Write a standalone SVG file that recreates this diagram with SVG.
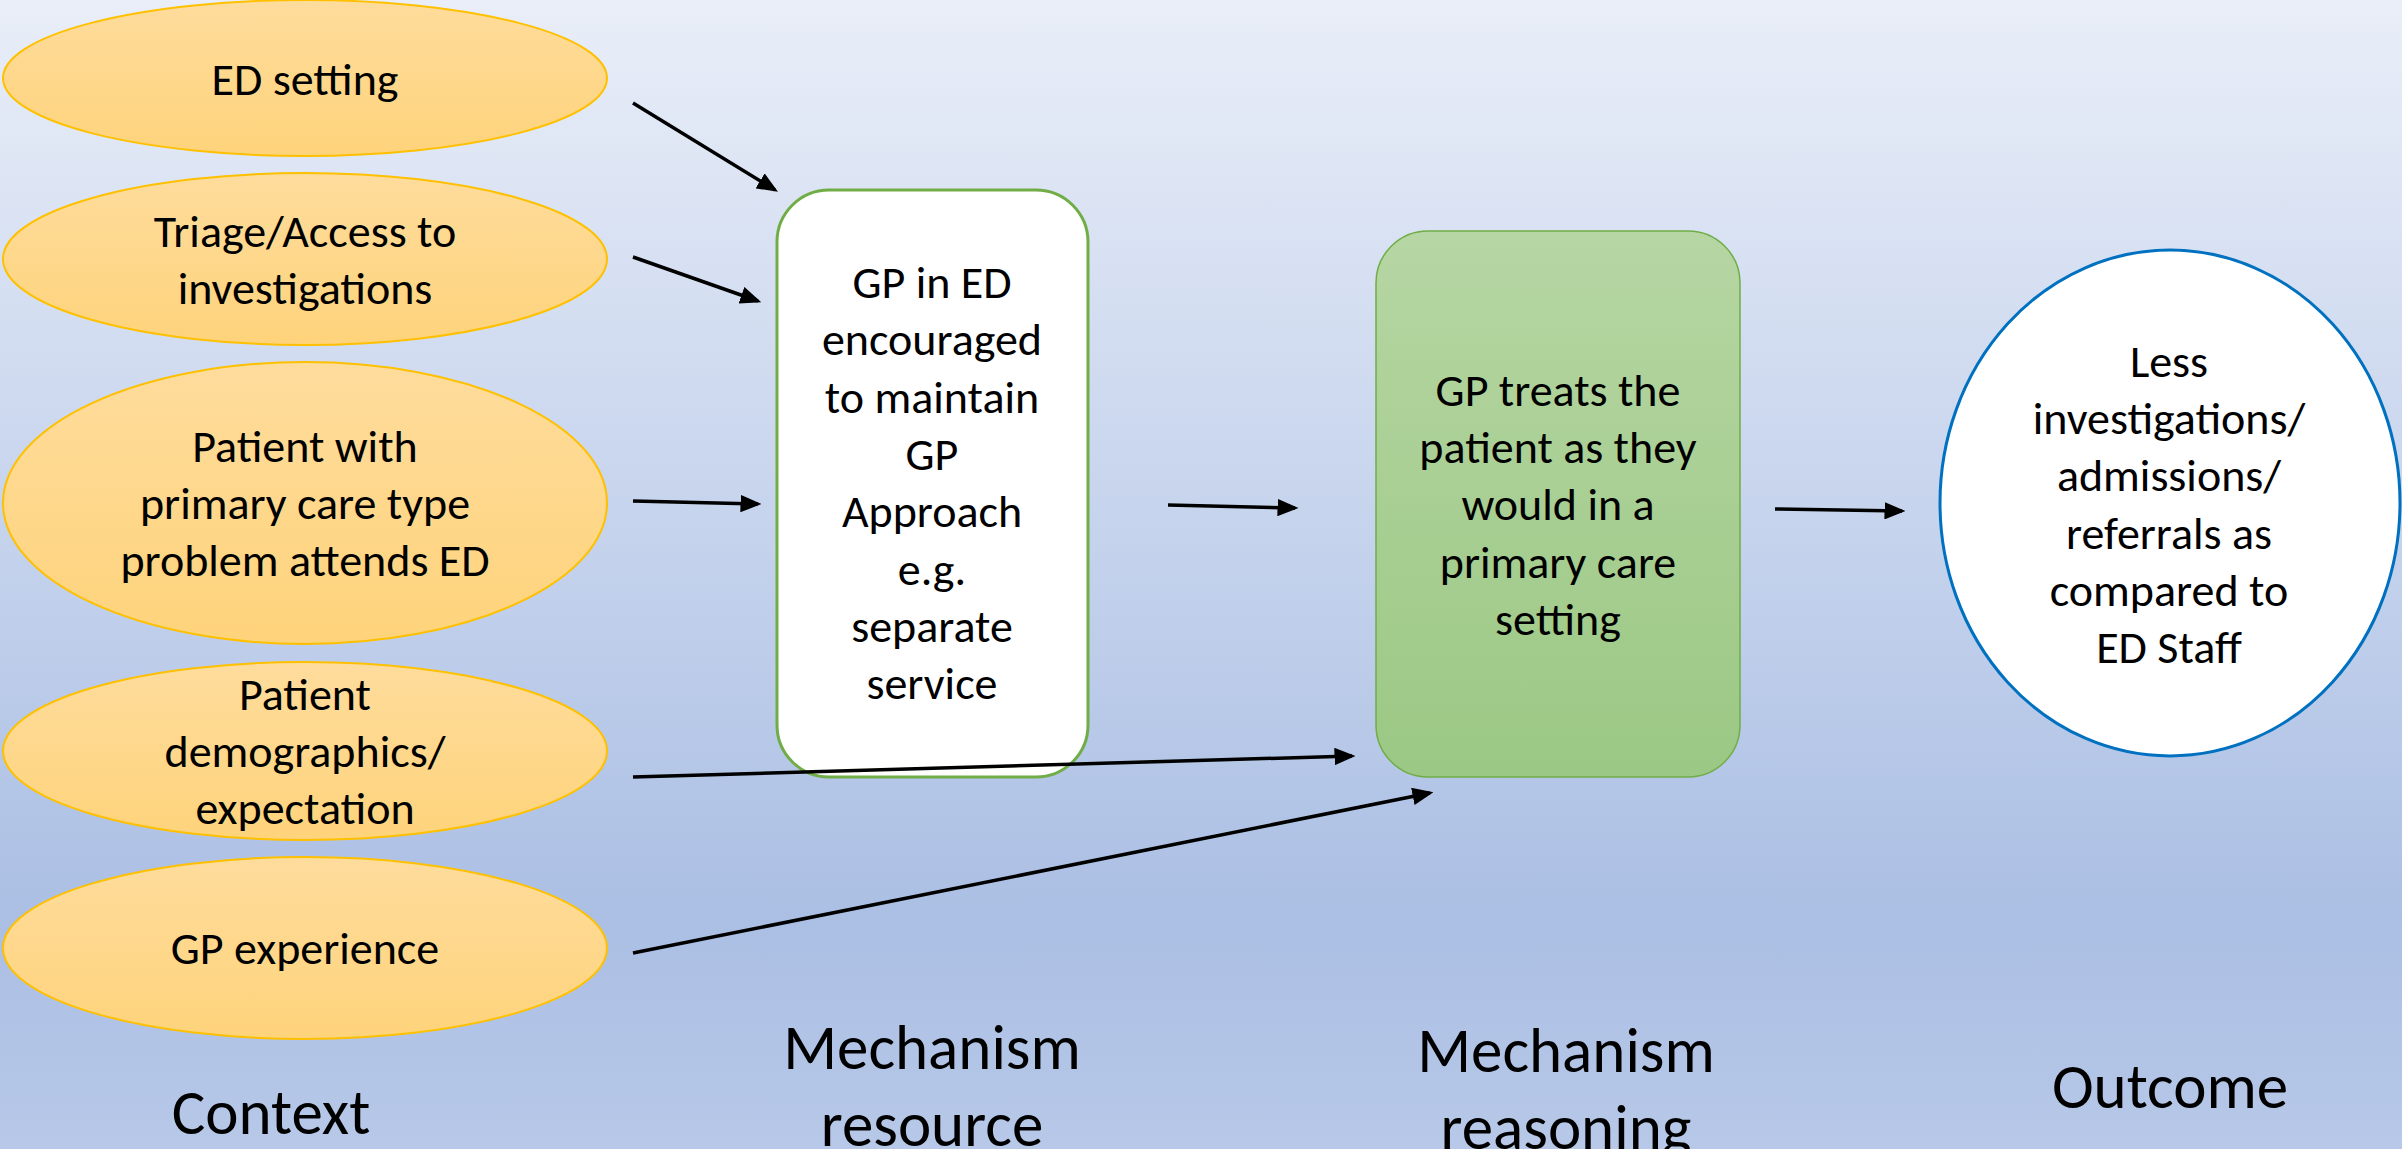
<svg xmlns="http://www.w3.org/2000/svg" width="2402" height="1149" viewBox="0 0 2402 1149">
<defs>
<linearGradient id="bg" x1="0" y1="0" x2="0" y2="1">
<stop offset="0" stop-color="#e9eef8"/>
<stop offset="0.8" stop-color="#abbfe4"/>
<stop offset="1" stop-color="#b7c8e8"/>
</linearGradient>
<linearGradient id="gold" x1="0" y1="0" x2="0" y2="1">
<stop offset="0" stop-color="#fedc9c"/>
<stop offset="1" stop-color="#fed37b"/>
</linearGradient>
<linearGradient id="green" x1="0" y1="0" x2="0" y2="1">
<stop offset="0" stop-color="#b6d6a3"/>
<stop offset="1" stop-color="#9bc884"/>
</linearGradient>
<marker id="arrow" viewBox="0 0 12 10" refX="10" refY="5" markerWidth="6" markerHeight="5" orient="auto" markerUnits="strokeWidth">
<path d="M0,0 L12,5 L0,10 z" fill="#000"/>
</marker>
</defs>
<style>
text{font-family:Carlito,Lato,"Liberation Sans",sans-serif;fill:#000;text-anchor:middle}
.t{font-size:46px}
.h{font-size:63px}
.ctx{fill:url(#gold);stroke:#ffc000;stroke-width:2}
.res{fill:#fff;stroke:#70ad47;stroke-width:3}
.rea{fill:url(#green);stroke:#70ad47;stroke-width:1.5}
.out{fill:#fff;stroke:#0070c0;stroke-width:3}
.c line{stroke:#000;stroke-width:3.5;marker-end:url(#arrow)}
</style>
<rect x="0" y="0" width="2402" height="1149" fill="url(#bg)"/>

<g id="ctx-ed-setting">
<ellipse class="ctx" cx="305" cy="78" rx="302" ry="78"/>
<text class="t" x="305" y="95">ED setting</text>
</g>
<g id="ctx-triage">
<ellipse class="ctx" cx="305" cy="259" rx="302" ry="86"/>
<text class="t" x="305" y="247">Triage/Access to</text>
<text class="t" x="305" y="304">investigations</text>
</g>
<g id="ctx-patient">
<ellipse class="ctx" cx="305" cy="503" rx="302" ry="141"/>
<text class="t" x="305" y="462">Patient with</text>
<text class="t" x="305" y="519">primary care type</text>
<text class="t" x="305" y="576">problem attends ED</text>
</g>
<g id="ctx-demographics">
<ellipse class="ctx" cx="305" cy="751" rx="302" ry="89"/>
<text class="t" x="305" y="710">Patient</text>
<text class="t" x="305" y="767">demographics/</text>
<text class="t" x="305" y="824">expectation</text>
</g>
<g id="ctx-gp-experience">
<ellipse class="ctx" cx="305" cy="948" rx="302" ry="91"/>
<text class="t" x="305" y="964">GP experience</text>
</g>

<g id="mech-resource">
<rect class="res" x="777" y="190" width="311" height="587" rx="52" ry="52"/>
<text class="t" x="932" y="298">GP in ED</text>
<text class="t" x="932" y="355">encouraged</text>
<text class="t" x="932" y="413">to maintain</text>
<text class="t" x="932" y="470">GP</text>
<text class="t" x="932" y="527">Approach</text>
<text class="t" x="932" y="585">e.g.</text>
<text class="t" x="932" y="642">separate</text>
<text class="t" x="932" y="699">service</text>
</g>

<g id="mech-reasoning">
<rect class="rea" x="1376" y="231" width="364" height="546" rx="52" ry="52"/>
<text class="t" x="1558" y="406">GP treats the</text>
<text class="t" x="1558" y="463">patient as they</text>
<text class="t" x="1558" y="520">would in a</text>
<text class="t" x="1558" y="578">primary care</text>
<text class="t" x="1558" y="635">setting</text>
</g>

<g id="outcome">
<ellipse class="out" cx="2170" cy="503" rx="230" ry="253"/>
<text class="t" x="2169" y="377">Less</text>
<text class="t" x="2169" y="434">investigations/</text>
<text class="t" x="2169" y="491">admissions/</text>
<text class="t" x="2169" y="549">referrals as</text>
<text class="t" x="2169" y="606">compared to</text>
<text class="t" x="2169" y="663">ED Staff</text>
</g>

<g id="connectors" class="c">
<line x1="633" y1="103" x2="775" y2="190"/>
<line x1="633" y1="257" x2="758" y2="301"/>
<line x1="633" y1="501" x2="758" y2="504"/>
<line x1="633" y1="777" x2="1352" y2="756"/>
<line x1="633" y1="953" x2="1430" y2="793"/>
<line x1="1168" y1="505" x2="1295" y2="508"/>
<line x1="1775" y1="509" x2="1902" y2="511"/>
</g>

<g id="labels">
<text class="h" x="271" y="1134">Context</text>
<text class="h" x="932" y="1069">Mechanism</text>
<text class="h" x="932" y="1146">resource</text>
<text class="h" x="1566" y="1072">Mechanism</text>
<text class="h" x="1566" y="1149">reasoning</text>
<text class="h" x="2170" y="1108">Outcome</text>
</g>
</svg>
